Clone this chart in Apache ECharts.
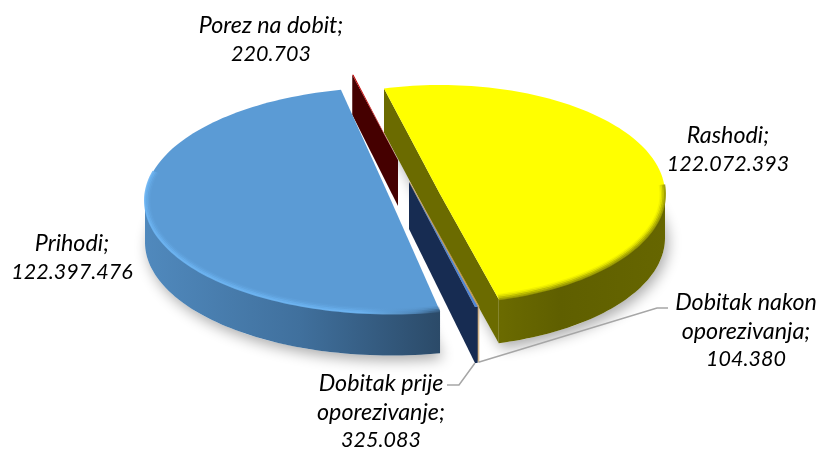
<!DOCTYPE html>
<html><head><meta charset="utf-8">
<style>html,body{margin:0;padding:0;background:#fff}#c{width:819px;height:450px}</style>
<script src="https://cdn.jsdelivr.net/npm/echarts@6/dist/echarts.min.js"></script>
</head><body><div id="c"></div>
<script>
// Clockwise order around the pie
const categories = ['Prihodi', 'Porez na dobit', 'Rashodi', 'Dobitak nakon oporezivanja', 'Dobitak prije oporezivanja'];
const values = [122397476, 220703, 122072393, 104380, 325083];
const labelLines = [['Prihodi;'], ['Porez na dobit;'], ['Rashodi;'], ['Dobitak nakon', 'oporezivanja;'], ['Dobitak prije', 'oporezivanje;']];

const START_ANGLE = 168.5;
const FAMILY = 'Lato, "Open Sans", sans-serif';

// Look of every slice: exploded apex, ellipse radii, wall heights, colours
const looks = [
  {cx:391,cy:200.5,rx:246,ry:113,twist:0,h:42,hApex:42,z:50,top:'#5b9bd5',cut:'#2f4d6b',
   wall:[[145,'#5089bd'],[300,'#40709d'],[441,'#2b4a68']],
   bevel:[[145,'#6cb4f2'],[360,'#6cb4f2'],[415,'#4f86b8'],[441,'#2f5274']],
   bevelFrom:90,bevelTo:285,label:{x:72,y:258}},
  {cx:398,cy:160,rx:225,ry:87,twist:0,h:40,hApex:46,z:10,top:'#c00000',cut:'#450000',
   wall:[[0,'#450000'],[1,'#450000']],label:{x:271,y:40}},
  {cx:440,cy:194,rx:225,ry:109,twist:-3,h:44,hApex:44,z:20,top:'#ffff00',cut:'#6b6b00',
   wall:[[497,'#6b6b00'],[560,'#5f5f00'],[665,'#666600']],
   bevel:[[440,'#9a9a00'],[665,'#9a9a00']],bevelFrom:445,bevelTo:560,label:{x:728,y:150}},
  {cx:409.7,cy:181.5,rx:331,ry:127.6,twist:0,h:56,hApex:47,z:30,top:'#d0a868',cut:'#c9a36a',
   wall:[[0,'#c9a36a'],[1,'#c9a36a']],label:{x:746,y:331},elbow:[[657,308],[668,308]]},
  {cx:409,cy:182,rx:331,ry:127.6,twist:0,h:56,hApex:47,z:40,top:'#4f86d8',cut:'#172c52',
   wall:[[0,'#172c52'],[1,'#172c52']],label:{x:381,y:412},elbow:[[459,385],[447,385]]}
];

const total = values.reduce((a, b) => a + b, 0);
const ranges = [];
values.reduce((acc, v) => { const s = acc + v / total * 360; ranges.push([acc, s]); return s; }, START_ANGLE);

const rad = d => d * Math.PI / 180;
const pt = (L, t) => [L.cx + L.rx * Math.sin(rad(t)), L.cy - L.ry * Math.cos(rad(t))];
const grad = (stops) => {
  const x0 = stops[0][0], x1 = stops[stops.length - 1][0];
  if (x1 <= 1) return stops[0][1];
  return new echarts.graphic.LinearGradient(x0, 0, x1, 0,
    stops.map(s => ({offset: (s[0] - x0) / (x1 - x0), color: s[1]})), true);
};
const arc = (L, a, b) => {
  const n = Math.max(2, Math.ceil((b - a) / 1.5)), out = [];
  for (let i = 0; i <= n; i++) out.push(pt(L, a + (b - a) * i / n));
  return out;
};
const down = (pts, h) => pts.map(p => [p[0], p[1] + h]);
const fmt = v => String(v).replace(/\B(?=(\d{3})+$)/g, '.');

function renderItem(params) {
  const i = params.dataIndex, L = looks[i], kids = [];
  const s = ranges[i][0] + L.twist, e = ranges[i][1] + L.twist;
  const poly = (points, style, z) => kids.push({type:'polygon', shape:{points}, style, z2:z, silent:true});
  const apex = [L.cx, L.cy];

  // Soft ground shadow for the two large slices
  if (e - s > 90) {
    poly([...down(arc(L, s, e), L.h), [L.cx, L.cy + L.h]],
      {fill:'#ffffff', shadowBlur:14, shadowColor:'rgba(0,0,0,0.33)', shadowOffsetY:5, shadowOffsetX:3}, 1);
  }
  // Cut faces: shown only when they hang below the slice
  const face = (t) => {
    const p = pt(L, t);
    poly([apex, p, [p[0], p[1] + L.h], [apex[0], apex[1] + L.hApex]], {fill:L.cut}, L.z);
  };
  if (Math.sin(rad(s)) < 0) face(s);
  if (Math.sin(rad(e)) > 0) face(e);
  // Outer wall: front half of the rim only
  for (const k of [0, 360]) {
    const lo = Math.max(s, 90 + k), hi = Math.min(e, 270 + k);
    if (hi > lo) {
      const rim = arc(L, lo, hi);
      poly([...rim, ...down(rim, L.h).reverse()], {fill:grad(L.wall)}, L.z + 1);
    }
  }
  // Top face
  poly([apex, ...arc(L, s, e)], {fill:L.top}, L.z + 2);
  // Soft rim bevel on the top face
  if (L.bevel) {
    const lo = Math.max(s, L.bevelFrom), hi = Math.min(e, L.bevelTo);
    [[0, 0.9], [1.5, 0.6], [3, 0.3], [4.5, 0.12]].forEach(([d, op]) => {
      const inner = arc(L, lo, hi).map(p => [p[0] + (L.cx - p[0]) * d / L.rx, p[1] + (L.cy - p[1]) * d / L.ry]);
      kids.push({type:'polyline', shape:{points:inner}, silent:true, z2:L.z + 3,
        style:{fill:null, stroke:grad(L.bevel), lineWidth:2, opacity:op}});
    });
  }
  // Leader line
  if (L.elbow) {
    const p = pt(L, e);
    kids.push({type:'polyline', silent:true, z2:60,
      shape:{points:[[p[0], p[1] + L.h], ...L.elbow]},
      style:{fill:null, stroke:'#a6a6a6', lineWidth:1.5}});
  }
  // Label
  const text = [...labelLines[i].map(t => '{n|' + t + '}'), '{v|' + fmt(values[i]) + '}'].join('\n');
  kids.push({type:'text', silent:true, z2:70, x:L.label.x, y:L.label.y,
    style:{text, fill:'#000000', align:'center', verticalAlign:'middle',
      rich:{
        n:{fontFamily:FAMILY, fontStyle:'italic', fontSize:23.3, lineHeight:28.5, fill:'#000000'},
        v:{fontFamily:FAMILY, fontStyle:'italic', fontSize:21.5, lineHeight:28.5, fill:'#000000'}
      }}});
  return {type:'group', children:kids};
}

const chart = echarts.init(document.getElementById('c'), null, {renderer:'canvas'});
chart.setOption({
  animation:false,
  backgroundColor:'#ffffff',
  series:[{type:'custom', coordinateSystem:'none', silent:true, renderItem,
    data:categories.map((name, i) => ({name, value:values[i]}))}]
});
</script></body></html>
